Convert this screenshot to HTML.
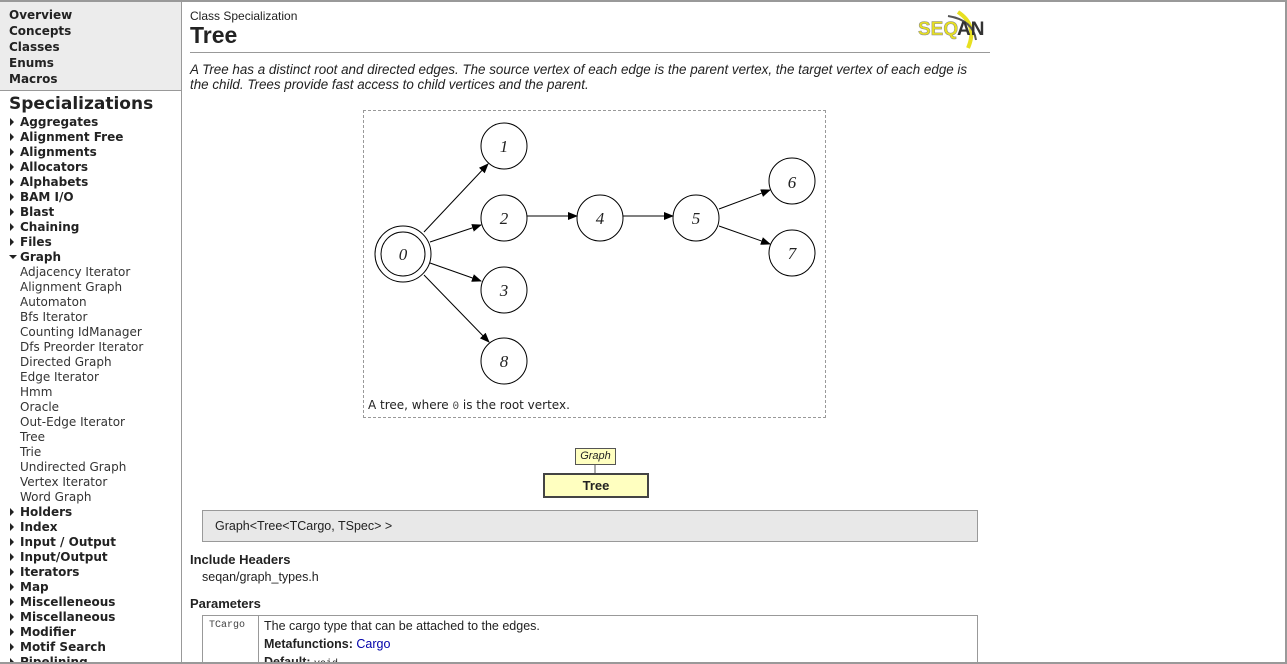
<!DOCTYPE html>
<html><head><meta charset="utf-8"><style>
*{margin:0;padding:0;box-sizing:border-box}
html,body{width:1287px;height:664px;overflow:hidden;background:#fff}
body{position:relative;font-family:"Liberation Sans",sans-serif;color:#222}
.frame{position:absolute;left:0;top:0;width:1287px;height:664px;border-top:2px solid #999;border-right:2px solid #999;border-bottom:2px solid #999}
.side{position:absolute;left:0;top:0;width:182px;height:664px;border-right:1px solid #999;font-family:"DejaVu Sans",sans-serif}
.topbox{position:absolute;left:0;top:2px;width:181px;height:89px;background:#ececec;border-bottom:1px solid #999}
.t{position:absolute;white-space:nowrap}
.nav{left:9px;font-weight:bold;font-size:12px;color:#222}
.cat{left:20px;font-weight:bold;font-size:12px;color:#222}
.sub{left:20px;font-size:12px;color:#333}
.ar{position:absolute;left:10px;width:0;height:0;border-top:4px solid transparent;border-bottom:4px solid transparent;border-left:4px solid #222}
</style></head><body>
<div class="frame"></div>
<div class="side">
<div class="topbox"></div>
<div class="t nav" style="top:8px">Overview</div>
<div class="t nav" style="top:24px">Concepts</div>
<div class="t nav" style="top:40px">Classes</div>
<div class="t nav" style="top:56px">Enums</div>
<div class="t nav" style="top:72px">Macros</div>
<div class="t" style="left:9px;top:94px;font-weight:bold;font-size:17px">Specializations</div>
</div>
<div id="list"></div>
<script>
var items=[["c","Aggregates"],["c","Alignment Free"],["c","Alignments"],["c","Allocators"],["c","Alphabets"],["c","BAM I/O"],["c","Blast"],["c","Chaining"],["c","Files"],["o","Graph"],["s","Adjacency Iterator"],["s","Alignment Graph"],["s","Automaton"],["s","Bfs Iterator"],["s","Counting IdManager"],["s","Dfs Preorder Iterator"],["s","Directed Graph"],["s","Edge Iterator"],["s","Hmm"],["s","Oracle"],["s","Out-Edge Iterator"],["s","Tree"],["s","Trie"],["s","Undirected Graph"],["s","Vertex Iterator"],["s","Word Graph"],["c","Holders"],["c","Index"],["c","Input / Output"],["c","Input/Output"],["c","Iterators"],["c","Map"],["c","Miscelleneous"],["c","Miscellaneous"],["c","Modifier"],["c","Motif Search"],["c","Pipelining"]];
var h="";
for(var i=0;i<items.length;i++){var y=115+i*15;var k=items[i][0];
if(k=="c"){h+='<div class="ar" style="top:'+(y+3)+'px"></div><div class="t cat" style="font-family:\'DejaVu Sans\',sans-serif;top:'+y+'px">'+items[i][1]+'</div>';}
else if(k=="o"){h+='<div style="position:absolute;left:9px;top:'+(y+5)+'px;width:0;height:0;border-left:4px solid transparent;border-right:4px solid transparent;border-top:4px solid #222"></div><div class="t cat" style="font-family:\'DejaVu Sans\',sans-serif;top:'+y+'px">'+items[i][1]+'</div>';}
else{h+='<div class="t sub" style="font-family:\'DejaVu Sans\',sans-serif;top:'+y+'px">'+items[i][1]+'</div>';}}
document.getElementById("list").innerHTML=h;
</script>
<div class="t" style="left:190px;top:9px;font-size:12px;color:#222">Class Specialization</div>
<div class="t" style="left:190px;top:22px;font-size:23px;font-weight:bold;color:#222">Tree</div>
<div style="position:absolute;left:190px;top:52px;width:800px;height:1px;background:#999"></div>
<div class="t" style="left:918px;top:10px;width:70px;height:40px">
<svg width="70" height="40"><path d="M40 2 Q60 15 50 38" stroke="#e8e020" stroke-width="4" fill="none"/><path d="M30 6 Q55 10 58 30" stroke="#555" stroke-width="2" fill="none"/>
<text x="0" y="25" font-family="Liberation Sans" font-weight="bold" font-size="19" fill="#e8e020" stroke="#888" stroke-width="0.5">SEQ</text><text x="39" y="25" font-family="Liberation Sans" font-weight="bold" font-size="19" fill="#333">AN</text></svg></div>
<div class="t" style="left:190px;top:62px;font-size:13.4px;font-style:italic;line-height:15px;color:#222">A Tree has a distinct root and directed edges. The source vertex of each edge is the parent vertex, the target vertex of each edge is<br>the child. Trees provide fast access to child vertices and the parent.</div>
<div style="position:absolute;left:363px;top:110px;width:463px;height:308px;border:1px dashed #999"></div>
<svg style="position:absolute;left:0;top:0" width="1287" height="664">
<defs><marker id="a" markerWidth="10" markerHeight="8" refX="9" refY="4" orient="auto" markerUnits="userSpaceOnUse"><path d="M0 0L10 4L0 8z" fill="#000"/></marker></defs>
<g stroke="#000" stroke-width="1" fill="none">
<circle cx="403" cy="254" r="28" fill="#fff"/><circle cx="403" cy="254" r="22"/>
<circle cx="504" cy="146" r="23"/><circle cx="504" cy="218" r="23"/><circle cx="504" cy="290" r="23"/><circle cx="504" cy="361" r="23"/>
<circle cx="600" cy="218" r="23"/><circle cx="696" cy="218" r="23"/><circle cx="792" cy="181" r="23"/><circle cx="792" cy="253" r="23"/>
<line x1="424" y1="232" x2="488" y2="164" marker-end="url(#a)"/>
<line x1="430" y1="242" x2="481" y2="225" marker-end="url(#a)"/>
<line x1="430" y1="263" x2="481" y2="281" marker-end="url(#a)"/>
<line x1="424" y1="275" x2="489" y2="342" marker-end="url(#a)"/>
<line x1="527" y1="216" x2="577" y2="216" marker-end="url(#a)"/>
<line x1="623" y1="216" x2="673" y2="216" marker-end="url(#a)"/>
<line x1="719" y1="209" x2="770" y2="190" marker-end="url(#a)"/>
<line x1="719" y1="226" x2="770" y2="244" marker-end="url(#a)"/>
</g>
<g font-family="Liberation Serif" font-style="italic" font-size="17" text-anchor="middle" fill="#222">
<text x="403" y="260">0</text><text x="504" y="152">1</text><text x="504" y="224">2</text><text x="504" y="296">3</text><text x="504" y="367">8</text><text x="600" y="224">4</text><text x="696" y="224">5</text><text x="792" y="188">6</text><text x="792" y="259">7</text>
</g>
<text x="368" y="409" font-family="DejaVu Sans" font-size="12" fill="#222">A tree, where <tspan font-family="Liberation Mono" font-size="11" fill="#444">0</tspan> is the root vertex.</text>
<line x1="595" y1="465" x2="595" y2="474" stroke="#555"/>
</svg>
<div class="t" style="left:575px;top:448px;width:41px;height:17px;background:#ffffc0;border:1px solid #555;font-size:11px;font-style:italic;text-align:center;line-height:15px">Graph</div>
<div class="t" style="left:543px;top:473px;width:106px;height:25px;background:#ffffc0;border:2px solid #444;font-size:13px;font-weight:bold;text-align:center;line-height:21px">Tree</div>
<div style="position:absolute;left:202px;top:510px;width:776px;height:32px;background:#e8e8e8;border:1px solid #999;font-size:12.5px;padding:8px 0 0 12px">Graph&lt;Tree&lt;TCargo, TSpec&gt; &gt;</div>
<div class="t" style="left:190px;top:552px;font-size:13px;font-weight:bold">Include Headers</div>
<div class="t" style="left:202px;top:570px;font-size:12.5px">seqan/graph_types.h</div>
<div class="t" style="left:190px;top:596px;font-size:13px;font-weight:bold">Parameters</div>
<div style="position:absolute;left:202px;top:615px;width:776px;height:60px;border:1px solid #999"></div>
<div style="position:absolute;left:258px;top:615px;width:1px;height:60px;background:#999"></div>
<div class="t" style="left:209px;top:620px;font-family:'Liberation Mono',monospace;font-size:10px;color:#444">TCargo</div>
<div class="t" style="left:264px;top:619px;font-size:12.5px">The cargo type that can be attached to the edges.</div>
<div class="t" style="left:264px;top:637px;font-size:12.5px"><b>Metafunctions:</b> <span style="color:#00a">Cargo</span></div>
<div class="t" style="left:264px;top:655px;font-size:12.5px"><b>Default:</b> <span style="font-family:'Liberation Mono';font-size:10px">void</span></div>
<div style="position:absolute;left:0;top:662px;width:1287px;height:2px;background:#999"></div>
</body></html>
